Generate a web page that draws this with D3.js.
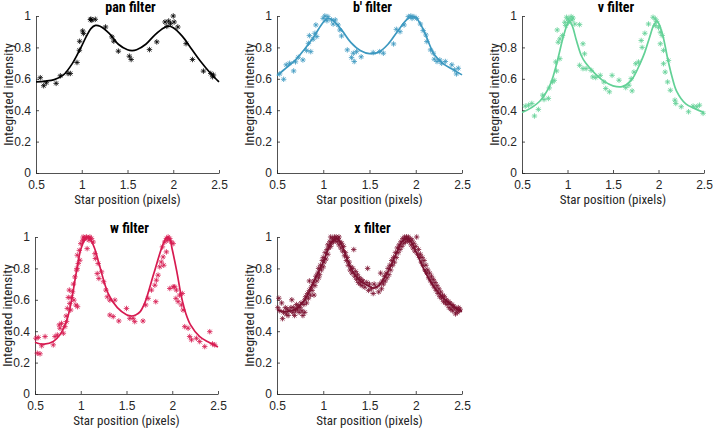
<!DOCTYPE html>
<html>
<head>
<meta charset="utf-8">
<script src="https://cdn.jsdelivr.net/npm/d3@7"></script>
<style>
body{margin:0;background:#fff;}
svg{display:block;}
text{font-family:"Liberation Sans Narrow","Arial Narrow","Roboto Condensed",sans-serif;}
</style>
</head>
<body>
<svg id="chart" width="713" height="428"></svg>
<script>
// ---------- DATA ----------
const xTicks = [0.5, 1, 1.5, 2, 2.5];
const yTicks = [0, 0.2, 0.4, 0.6, 0.8, 1];
const titles = ["pan filter", "b' filter", "v filter", "w filter", "x filter"];
const colors = ["#000000", "#3c98c0", "#62d196", "#d71a50", "#7a1030"];

// fitted curves
const panFitX = [0.5,0.6,0.7,0.8,0.9,1.0,1.05,1.1,1.15,1.2,1.3,1.4,1.5,1.55,1.6,1.7,1.8,1.9,1.95,2.0,2.1,2.2,2.3,2.4,2.5];
const panFitY = [0.58,0.585,0.595,0.625,0.70,0.81,0.87,0.92,0.94,0.935,0.89,0.82,0.785,0.78,0.785,0.82,0.88,0.925,0.935,0.925,0.87,0.79,0.71,0.64,0.58];

const bFitX = [0.5,0.6,0.7,0.8,0.9,1.0,1.05,1.1,1.2,1.3,1.4,1.5,1.6,1.7,1.8,1.9,1.95,2.0,2.05,2.1,2.2,2.3,2.4,2.5];
const bFitY = [0.62,0.67,0.72,0.79,0.87,0.96,0.985,0.975,0.91,0.83,0.78,0.76,0.77,0.82,0.90,0.975,0.995,0.99,0.95,0.89,0.755,0.695,0.66,0.625];

const vFitX = [0.5,0.6,0.7,0.8,0.85,0.9,0.95,1.0,1.02,1.05,1.1,1.15,1.2,1.3,1.4,1.5,1.6,1.7,1.8,1.85,1.9,1.95,1.98,2.0,2.05,2.1,2.15,2.2,2.3,2.4,2.5];
const vFitY = [0.385,0.415,0.46,0.55,0.63,0.74,0.86,0.95,0.965,0.94,0.84,0.75,0.70,0.635,0.585,0.555,0.55,0.59,0.70,0.77,0.86,0.945,0.965,0.955,0.87,0.73,0.61,0.52,0.44,0.41,0.385];

const wFitX = [0.5,0.55,0.6,0.7,0.77,0.85,0.9,0.95,1.0,1.05,1.08,1.1,1.15,1.2,1.3,1.4,1.5,1.55,1.6,1.65,1.7,1.8,1.9,1.94,1.97,2.0,2.05,2.1,2.15,2.2,2.3,2.4,2.5];
const wFitY = [0.33,0.32,0.318,0.335,0.375,0.475,0.60,0.77,0.92,0.99,1.0,0.99,0.93,0.83,0.64,0.55,0.505,0.497,0.503,0.525,0.58,0.77,0.955,0.995,0.99,0.92,0.78,0.62,0.51,0.44,0.365,0.33,0.30];

const xFitX = [0.5,0.6,0.7,0.8,0.9,1.0,1.05,1.1,1.15,1.2,1.3,1.4,1.5,1.55,1.6,1.7,1.8,1.85,1.9,1.95,2.0,2.1,2.2,2.3,2.4,2.5];
const xFitY = [0.535,0.525,0.54,0.60,0.72,0.84,0.92,0.975,0.99,0.95,0.80,0.72,0.685,0.675,0.69,0.78,0.91,0.97,0.99,0.97,0.91,0.78,0.68,0.61,0.56,0.525];

// measured points [x, y]
const panPts = [[0.547,0.607],[0.584,0.556],[0.613,0.575],[0.72,0.571],[0.766,0.619],[0.85,0.634],[0.875,0.634],[0.948,0.704],[0.974,0.782],[0.977,0.839],[1.01,0.905],[1.02,0.888],[1.094,0.977],[1.11,0.973],[1.148,0.979],[1.26,0.93],[1.33,0.867],[1.35,0.84],[1.40,0.776],[1.52,0.744],[1.54,0.723],[1.74,0.786],[1.82,0.835],[1.91,0.962],[1.93,0.934],[1.95,0.968],[1.97,0.951],[2.0,1.0],[2.01,0.962],[2.05,0.93],[2.14,0.824],[2.21,0.723],[2.33,0.649],[2.41,0.634],[2.43,0.613],[2.44,0.624],[1.1,0.98]];

const bPts = [[0.529,0.631],[0.572,0.597],[0.6,0.689],[0.637,0.699],[0.68,0.65],[0.70,0.708],[0.73,0.737],[0.78,0.72],[0.82,0.78],[0.84,0.826],[0.85,0.875],[0.865,0.773],[0.89,0.852],[0.91,0.89],[0.92,0.943],[0.93,0.869],[0.999,0.985],[1.017,1.0],[1.05,0.996],[1.09,0.975],[1.107,0.949],[1.13,0.975],[1.16,0.943],[1.18,0.911],[1.198,0.873],[1.26,0.784],[1.306,0.735],[1.335,0.71],[1.325,0.763],[1.36,0.773],[1.41,0.74],[1.54,0.767],[1.61,0.773],[1.65,0.763],[1.76,0.822],[1.79,0.915],[1.83,0.9],[1.874,0.943],[1.92,0.996],[1.947,1.0],[1.98,0.996],[2.01,0.985],[2.05,0.949],[2.08,0.907],[2.11,0.879],[2.12,0.837],[2.16,0.784],[2.19,0.763],[2.2,0.725],[2.23,0.71],[2.26,0.72],[2.28,0.699],[2.32,0.71],[2.39,0.689],[2.42,0.657],[2.44,0.631],[2.46,0.667],[1.04,0.97],[1.96,0.985]];

const vPts = [[0.536,0.426],[0.572,0.432],[0.608,0.443],[0.637,0.363],[0.68,0.405],[0.728,0.496],[0.742,0.468],[0.79,0.475],[0.8,0.542],[0.836,0.58],[0.854,0.59],[0.88,0.65],[0.87,0.707],[0.916,0.728],[0.898,0.833],[0.916,0.854],[0.945,0.876],[0.887,0.911],[0.97,0.96],[0.99,0.992],[1.006,0.981],[1.024,0.97],[1.04,0.996],[1.06,0.987],[1.08,0.949],[0.98,0.939],[1.133,0.945],[1.17,0.823],[1.187,0.759],[1.133,0.686],[1.17,0.665],[1.205,0.665],[1.26,0.654],[1.278,0.612],[1.31,0.608],[1.36,0.622],[1.40,0.58],[1.42,0.538],[1.46,0.517],[1.49,0.622],[1.566,0.591],[1.64,0.544],[1.675,0.559],[1.71,0.523],[1.70,0.601],[1.73,0.643],[1.75,0.696],[1.78,0.707],[1.81,0.844],[1.82,0.8],[1.85,0.89],[1.89,0.949],[1.94,0.992],[1.965,0.981],[1.98,0.966],[2.0,0.928],[2.02,0.897],[1.965,0.939],[2.04,0.876],[2.02,0.823],[2.055,0.781],[2.055,0.696],[2.073,0.643],[2.11,0.717],[2.1,0.58],[2.13,0.527],[2.18,0.464],[2.19,0.443],[2.25,0.422],[2.33,0.39],[2.38,0.426],[2.42,0.422],[2.45,0.432],[2.49,0.38],[1.01,0.96],[1.05,0.975]];

const wPts = [[0.51,0.355],[0.525,0.26],[0.536,0.36],[0.555,0.256],[0.573,0.307],[0.61,0.366],[0.7,0.313],[0.718,0.366],[0.744,0.376],[0.765,0.44],[0.773,0.419],[0.79,0.45],[0.81,0.387],[0.827,0.429],[0.845,0.461],[0.84,0.497],[0.853,0.545],[0.864,0.615],[0.875,0.662],[0.88,0.577],[0.89,0.535],[0.9,0.615],[0.91,0.651],[0.925,0.598],[0.947,0.567],[0.965,0.556],[0.936,0.746],[0.955,0.789],[0.973,0.831],[0.99,0.852],[0.962,0.884],[0.984,0.915],[1.0,0.958],[1.02,0.979],[1.027,1.0],[1.045,0.996],[1.063,1.0],[1.08,0.996],[1.1,1.0],[1.118,0.99],[1.07,0.926],[1.136,0.968],[1.155,0.894],[1.16,0.863],[1.19,0.831],[1.18,0.767],[1.198,0.736],[1.227,0.778],[1.25,0.715],[1.275,0.662],[1.29,0.619],[1.318,0.598],[1.318,0.503],[1.355,0.493],[1.373,0.598],[1.416,0.465],[1.5,0.545],[1.536,0.482],[1.573,0.482],[1.59,0.461],[1.68,0.465],[1.71,0.567],[1.736,0.609],[1.773,0.662],[1.81,0.693],[1.827,0.725],[1.82,0.588],[1.845,0.757],[1.864,0.81],[1.88,0.841],[1.9,0.873],[1.893,0.937],[1.918,0.968],[1.936,0.99],[1.955,1.0],[1.973,0.99],[1.99,0.968],[2.01,0.958],[1.936,0.905],[1.907,0.82],[1.973,0.672],[2.01,0.683],[2.027,0.683],[2.045,0.662],[2.04,0.609],[2.064,0.588],[2.08,0.63],[2.1,0.567],[2.11,0.64],[2.118,0.535],[2.136,0.429],[2.173,0.419],[2.19,0.366],[2.21,0.345],[2.264,0.355],[2.3,0.334],[2.355,0.302],[2.41,0.397],[2.44,0.319],[2.464,0.313],[1.04,0.985],[1.09,0.98],[1.95,0.98],[0.92,0.7],[0.96,0.8]];

const xPts = [[0.51,0.55],[0.52,0.61],[0.53,0.53],[0.55,0.58],[0.56,0.48],[0.57,0.52],[0.59,0.55],[0.6,0.51],[0.61,0.54],[0.62,0.5],[0.63,0.53],[0.65,0.55],[0.66,0.6],[0.67,0.52],[0.68,0.55],[0.69,0.5],[0.7,0.53],[0.71,0.57],[0.72,0.54],[0.73,0.56],[0.74,0.52],[0.75,0.55],[0.76,0.58],[0.77,0.53],[0.78,0.5],[0.79,0.57],[0.8,0.52],[0.8,0.6],[0.81,0.62],[0.82,0.58],[0.83,0.64],[0.84,0.61],[0.85,0.66],[0.85,0.72],[0.86,0.63],[0.87,0.68],[0.88,0.66],[0.89,0.7],[0.9,0.63],[0.9,0.72],[0.91,0.69],[0.92,0.75],[0.93,0.72],[0.94,0.77],[0.95,0.74],[0.95,0.8],[0.96,0.76],[0.97,0.82],[0.98,0.79],[0.99,0.85],[1.0,0.81],[1.0,0.87],[1.01,0.84],[1.02,0.9],[1.03,0.86],[1.04,0.92],[1.05,0.89],[1.05,0.95],[1.06,0.93],[1.07,0.97],[1.08,0.94],[1.08,1.0],[1.09,0.96],[1.1,0.99],[1.11,0.97],[1.12,1.0],[1.13,0.98],[1.14,1.0],[1.15,0.97],[1.16,0.99],[1.17,1.0],[1.17,0.95],[1.18,0.97],[1.19,0.93],[1.2,0.96],[1.21,0.91],[1.22,0.94],[1.23,0.88],[1.24,0.9],[1.25,0.85],[1.26,0.87],[1.27,0.82],[1.28,0.84],[1.29,0.79],[1.3,0.81],[1.31,0.77],[1.32,0.8],[1.33,0.92],[1.34,0.75],[1.35,0.78],[1.36,0.73],[1.37,0.76],[1.38,0.71],[1.39,0.74],[1.4,0.7],[1.41,0.73],[1.42,0.69],[1.43,0.72],[1.45,0.68],[1.47,0.71],[1.48,0.8],[1.49,0.66],[1.5,0.7],[1.52,0.67],[1.54,0.64],[1.55,0.7],[1.57,0.68],[1.6,0.65],[1.61,0.7],[1.62,0.77],[1.63,0.67],[1.64,0.72],[1.65,0.7],[1.66,0.75],[1.67,0.72],[1.68,0.77],[1.69,0.74],[1.7,0.8],[1.71,0.76],[1.72,0.82],[1.73,0.79],[1.74,0.85],[1.75,0.82],[1.76,0.87],[1.77,0.84],[1.78,0.9],[1.79,0.87],[1.8,0.93],[1.81,0.9],[1.82,0.95],[1.83,0.92],[1.84,0.97],[1.85,0.94],[1.86,0.99],[1.87,0.96],[1.88,1.0],[1.89,0.97],[1.9,1.0],[1.91,0.98],[1.92,1.0],[1.93,0.97],[1.94,0.99],[1.95,0.95],[1.96,0.98],[1.97,0.93],[1.98,0.96],[1.99,0.91],[2.0,0.94],[2.01,1.0],[2.02,0.89],[2.03,0.92],[2.04,0.87],[2.05,0.89],[2.06,0.84],[2.07,0.87],[2.08,0.82],[2.09,0.85],[2.1,0.79],[2.11,0.82],[2.12,0.77],[2.13,0.79],[2.14,0.74],[2.15,0.77],[2.16,0.72],[2.17,0.75],[2.18,0.7],[2.19,0.73],[2.2,0.68],[2.21,0.71],[2.22,0.66],[2.23,0.69],[2.24,0.64],[2.25,0.67],[2.26,0.62],[2.27,0.65],[2.28,0.61],[2.29,0.63],[2.3,0.59],[2.31,0.62],[2.32,0.58],[2.33,0.6],[2.34,0.57],[2.35,0.59],[2.36,0.55],[2.37,0.58],[2.38,0.54],[2.39,0.57],[2.4,0.53],[2.41,0.56],[2.42,0.55],[2.43,0.51],[2.44,0.54],[2.45,0.52],[2.46,0.55],[2.47,0.53],[2.48,0.54]];

// ---------- LAYOUT ----------
const panels = [
  {x0:36,  x1:219, y0:16,  y1:173, fitX:panFitX, fitY:panFitY, pts:panPts},
  {x0:277, x1:462, y0:16,  y1:173, fitX:bFitX,   fitY:bFitY,   pts:bPts},
  {x0:522, x1:704, y0:16,  y1:173, fitX:vFitX,   fitY:vFitY,   pts:vPts},
  {x0:35,  x1:218, y0:237, y1:394, fitX:wFitX,   fitY:wFitY,   pts:wPts},
  {x0:277, x1:462, y0:237, y1:394, fitX:xFitX,   fitY:xFitY,   pts:xPts}
];

const svg = d3.select("#chart");
const axisColor = "#262626";

// 4-line asterisk symbol (MATLAB style)
const asterisk = {
  draw(ctx, size) {
    const r = Math.sqrt(size) / 2;
    const d = r * Math.SQRT1_2;
    ctx.moveTo(0, -r); ctx.lineTo(0, r);
    ctx.moveTo(-r, 0); ctx.lineTo(r, 0);
    ctx.moveTo(-d, -d); ctx.lineTo(d, d);
    ctx.moveTo(-d, d); ctx.lineTo(d, -d);
  }
};
const sym = d3.symbol().type(asterisk).size(30);

panels.forEach((p, i) => {
  const xs = d3.scaleLinear().domain([0.5, 2.5]).range([p.x0, p.x1]);
  const ys = d3.scaleLinear().domain([0, 1]).range([p.y1, p.y0]);
  const g = svg.append("g");
  const col = colors[i];

  // x axis
  const xa = g.append("g").attr("transform", `translate(0,${p.y1})`)
    .call(d3.axisBottom(xs).tickValues(xTicks).tickSizeInner(-3).tickSizeOuter(0)
      .tickFormat(d => String(d)));
  // y axis
  const ya = g.append("g").attr("transform", `translate(${p.x0},0)`)
    .call(d3.axisLeft(ys).tickValues(yTicks).tickSizeInner(-3).tickSizeOuter(0).tickPadding(5)
      .tickFormat(d => String(d)));
  [xa, ya].forEach(a => {
    a.select(".domain").attr("stroke", axisColor).attr("stroke-width", 0.8);
    a.selectAll(".tick line").attr("stroke", axisColor).attr("stroke-width", 0.8);
    a.selectAll(".tick text").attr("fill", axisColor)
      .style("font-family", '"Liberation Sans Narrow","Arial Narrow",sans-serif').style("font-size", "12px");
  });
  xa.selectAll(".tick text").attr("dy", "0.72em").attr("y", 7);

  // points
  g.append("g").selectAll("path").data(p.pts).join("path")
    .attr("d", sym)
    .attr("transform", d => `translate(${xs(d[0])},${ys(d[1])})`)
    .attr("fill", "none").attr("stroke", col).attr("stroke-width", 1).attr("opacity", 0.8);

  // fit curve
  const fit = p.fitX.map((x, k) => [x, p.fitY[k]]);
  g.append("path").datum(fit)
    .attr("d", d3.line().x(d => xs(d[0])).y(d => ys(d[1])).curve(d3.curveCatmullRom.alpha(0.5)))
    .attr("fill", "none").attr("stroke", col).attr("stroke-width", 1.7);

  // title
  g.append("text").attr("x", (p.x0 + p.x1) / 2 + 3).attr("y", p.y0 - 4)
    .attr("text-anchor", "middle").style("font-size", "14px").style("font-weight", "bold")
    .attr("fill", "#000").text(titles[i]);
  // x label
  g.append("text").attr("x", (p.x0 + p.x1) / 2).attr("y", p.y1 + 31)
    .attr("text-anchor", "middle").style("font-size", "13px").attr("fill", axisColor)
    .text("Star position (pixels)");
  // y label
  g.append("text").attr("transform", `translate(${p.x0 - 23},${(p.y0 + p.y1) / 2}) rotate(-90)`)
    .attr("text-anchor", "middle").style("font-size", "13.5px").attr("fill", axisColor)
    .text("Integrated intensity");
});
</script>
</body>
</html>
